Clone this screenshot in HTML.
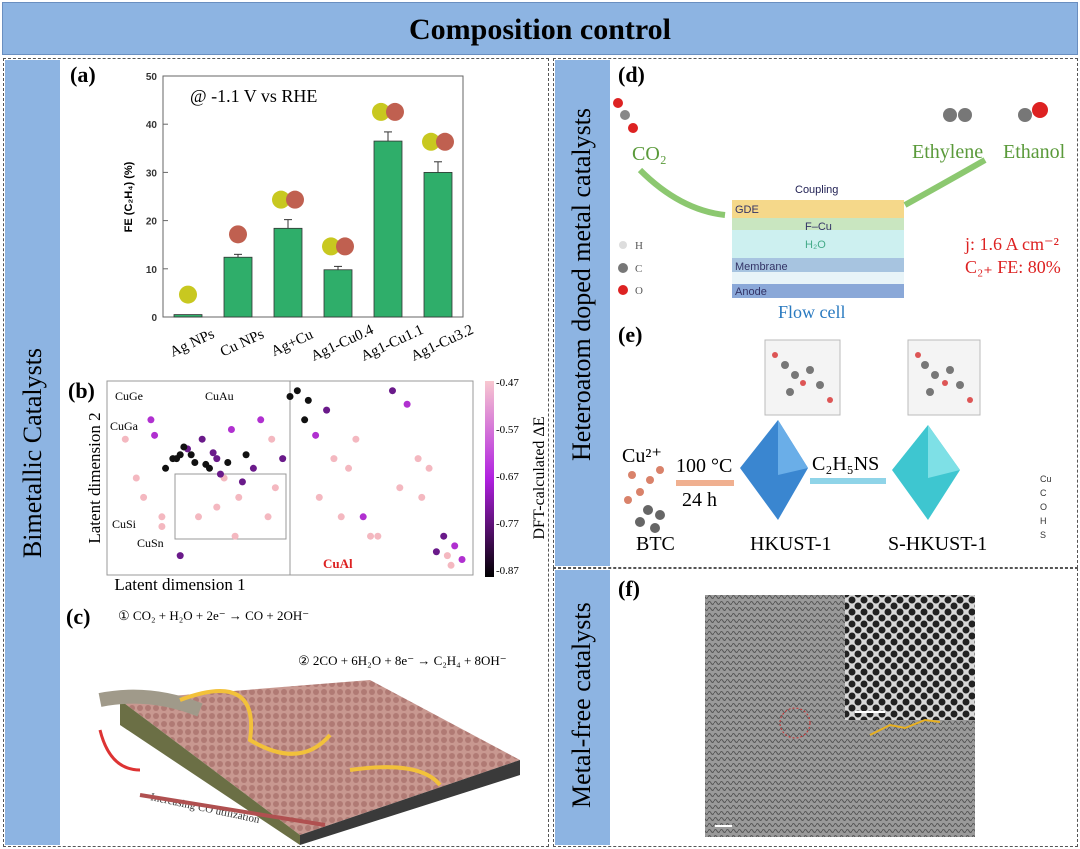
<!DOCTYPE html>
<html><head><meta charset="utf-8">
<style>
body{margin:0;width:1080px;height:849px;background:#fff;position:relative;overflow:hidden;font-family:"Liberation Serif",serif}
.abs{position:absolute}
.strip{position:absolute;background:#8db4e2;}
.vt{position:absolute;transform:rotate(-90deg);transform-origin:center;white-space:nowrap;font-size:26px;color:#000}
.dash{position:absolute;border:1.5px dashed #555;box-sizing:border-box}
.lab{position:absolute;font-weight:bold;font-size:22px}
</style></head><body>
<div class="abs" style="left:2px;top:2px;width:1076px;height:53px;background:#8db4e2;border:1px solid #6a8fc0;box-sizing:border-box;text-align:center;font-weight:bold;font-size:30px;line-height:53px">Composition control</div>

<div class="dash" style="left:3px;top:58px;width:546px;height:789px"></div>
<div class="dash" style="left:553px;top:58px;width:525px;height:510px"></div>
<div class="dash" style="left:553px;top:568px;width:525px;height:279px"></div>

<div class="strip" style="left:5px;top:60px;width:55px;height:785px"></div>
<div class="vt" style="left:-97px;top:438px;width:260px;text-align:center">Bimetallic Catalysts</div>
<div class="strip" style="left:555px;top:60px;width:55px;height:506px"></div>
<div class="vt" style="left:432px;top:296px;width:300px;text-align:center">Heteroatom doped metal catalysts</div>
<div class="strip" style="left:555px;top:570px;width:55px;height:275px"></div>
<div class="vt" style="left:482px;top:693px;width:200px;text-align:center">Metal-free catalysts</div>

<div class="lab" style="left:70px;top:62px">(a)</div>
<div class="lab" style="left:68px;top:378px">(b)</div>
<div class="lab" style="left:66px;top:604px">(c)</div>
<div class="lab" style="left:618px;top:62px">(d)</div>
<div class="lab" style="left:618px;top:322px">(e)</div>
<div class="lab" style="left:618px;top:576px">(f)</div>

<svg class="abs" style="left:0;top:0" width="1080" height="849">
<defs>
<pattern id="tem" width="6" height="6" patternUnits="userSpaceOnUse"><rect width="6" height="6" fill="#9a9a9a"/><path d="M0,3 Q1.5,0 3,3 T6,3" stroke="#555" stroke-width="1" fill="none"/></pattern>
<pattern id="hex" width="12" height="12" patternUnits="userSpaceOnUse"><rect width="12" height="12" fill="#d8d8d8"/><circle cx="6" cy="6" r="3.5" fill="#222"/><circle cx="0" cy="0" r="3.5" fill="#222"/><circle cx="12" cy="12" r="3.5" fill="#222"/><circle cx="0" cy="12" r="3.5" fill="#222"/><circle cx="12" cy="0" r="3.5" fill="#222"/></pattern>
<pattern id="dots" width="8" height="8" patternUnits="userSpaceOnUse"><rect width="8" height="8" fill="#c89890"/><circle cx="4" cy="4" r="3" fill="#b07a74"/></pattern>
</defs>
<g id="chartA"></g>
<g id="chartB"></g>
<!-- panel c -->
<g>
<text x="118" y="620" font-size="13">① CO₂ + H₂O + 2e⁻ → CO + 2OH⁻</text>
<text x="298" y="665" font-size="13">② 2CO + 6H₂O + 8e⁻ → C₂H₄ + 8OH⁻</text>
<polygon points="120,700 370,680 520,760 300,835" fill="url(#dots)"/>
<polygon points="120,700 300,835 300,845 120,725" fill="#6b6f45"/>
<polygon points="300,835 520,760 520,775 300,845" fill="#3a3a3a"/>
<path d="M100,700 Q150,690 200,710" stroke="#a09a8a" stroke-width="14" fill="none"/>
<path d="M180,700 Q260,670 250,740 Q300,770 330,735" stroke="#f2c13a" stroke-width="4" fill="none"/>
<path d="M350,770 Q420,760 440,785" stroke="#f2c13a" stroke-width="4" fill="none"/>
<path d="M100,730 Q110,770 140,770" stroke="#d33" stroke-width="3" fill="none"/>
<text x="150" y="800" font-size="11" fill="#333" transform="rotate(12 150 800)">Increasing CO utilization</text>
<line x1="140" y1="795" x2="325" y2="825" stroke="#b05050" stroke-width="4"/>
</g>
<!-- panel d -->
<g>
<circle cx="625" cy="115" r="5" fill="#888"/><circle cx="633" cy="128" r="5" fill="#d22"/><circle cx="618" cy="103" r="5" fill="#d22"/>
<text x="632" y="160" font-size="20" fill="#5a9a3a">CO₂</text>
<path d="M640,170 Q680,210 725,215" stroke="#8cc870" stroke-width="6" fill="none"/>
<rect x="732" y="200" width="172" height="18" fill="#f5d88a"/>
<rect x="732" y="218" width="172" height="12" fill="#c9e6c0"/>
<rect x="732" y="230" width="172" height="28" fill="#cdf0f0"/>
<rect x="732" y="258" width="172" height="14" fill="#a7c4e0"/>
<rect x="732" y="272" width="172" height="12" fill="#e8f4f8"/>
<rect x="732" y="284" width="172" height="14" fill="#8aa8d8"/>
<text x="735" y="213" font-size="11" font-family="Liberation Sans" fill="#336">GDE</text>
<text x="805" y="230" font-size="11" font-family="Liberation Sans" fill="#336">F–Cu</text>
<text x="805" y="248" font-size="11" font-family="Liberation Sans" fill="#4a8">H₂O</text>
<text x="735" y="270" font-size="11" font-family="Liberation Sans" fill="#336">Membrane</text>
<text x="735" y="295" font-size="11" font-family="Liberation Sans" fill="#336">Anode</text>
<text x="795" y="193" font-size="11" font-family="Liberation Sans" fill="#225">Coupling</text>
<text x="778" y="318" font-size="18" fill="#2a7ac0">Flow cell</text>
<path d="M905,205 Q950,180 985,160" stroke="#8cc870" stroke-width="6" fill="none"/>
<text x="912" y="158" font-size="20" fill="#5a9a3a">Ethylene</text>
<text x="1003" y="158" font-size="20" fill="#5a9a3a">Ethanol</text>
<circle cx="950" cy="115" r="7" fill="#777"/><circle cx="965" cy="115" r="7" fill="#777"/>
<circle cx="1025" cy="115" r="7" fill="#777"/><circle cx="1040" cy="110" r="8" fill="#d22"/>
<text x="965" y="250" font-size="18" fill="#d22">j: 1.6 A cm⁻²</text>
<text x="965" y="273" font-size="18" fill="#d22">C₂₊ FE: 80%</text>
<circle cx="623" cy="245" r="4" fill="#ddd"/><text x="635" y="249" font-size="11" fill="#555">H</text>
<circle cx="623" cy="268" r="5" fill="#777"/><text x="635" y="272" font-size="11" fill="#555">C</text>
<circle cx="623" cy="290" r="5" fill="#d22"/><text x="635" y="294" font-size="11" fill="#555">O</text>
</g>
<!-- panel e -->
<g>
<text x="622" y="462" font-size="20">Cu²⁺</text>
<g fill="#d9826a"><circle cx="632" cy="475" r="4"/><circle cx="650" cy="480" r="4"/><circle cx="640" cy="492" r="4"/><circle cx="660" cy="470" r="4"/><circle cx="628" cy="500" r="4"/></g>
<g fill="#666"><circle cx="648" cy="510" r="5"/><circle cx="660" cy="515" r="5"/><circle cx="655" cy="528" r="5"/><circle cx="640" cy="522" r="5"/></g>
<text x="636" y="550" font-size="20">BTC</text>
<text x="676" y="472" font-size="20">100 °C</text>
<rect x="676" y="480" width="58" height="6" fill="#f0b090"/>
<text x="682" y="506" font-size="20">24 h</text>
<polygon points="778,420 808,468 778,520 740,468" fill="#3a86d0"/>
<polygon points="778,420 808,468 778,475" fill="#6aaee8"/>
<text x="750" y="550" font-size="20">HKUST-1</text>
<text x="812" y="470" font-size="20">C₂H₅NS</text>
<rect x="810" y="478" width="76" height="6" fill="#8fd4e8"/>
<polygon points="928,425 960,470 928,520 892,470" fill="#3ec6d0"/>
<polygon points="928,425 960,470 928,478" fill="#7ee0e6"/>
<text x="888" y="550" font-size="20">S-HKUST-1</text>
<rect x="765" y="340" width="75" height="75" fill="#f4f4f4" stroke="#bbb"/>
<g fill="#777"><circle cx="785" cy="365" r="4"/><circle cx="795" cy="375" r="4"/><circle cx="810" cy="370" r="4"/><circle cx="820" cy="385" r="4"/><circle cx="790" cy="392" r="4"/></g>
<g fill="#d55"><circle cx="775" cy="355" r="3"/><circle cx="830" cy="400" r="3"/><circle cx="803" cy="383" r="3"/></g>
<rect x="908" y="340" width="72" height="75" fill="#f4f4f4" stroke="#bbb"/>
<g fill="#777"><circle cx="925" cy="365" r="4"/><circle cx="935" cy="375" r="4"/><circle cx="950" cy="370" r="4"/><circle cx="960" cy="385" r="4"/><circle cx="930" cy="392" r="4"/></g>
<g fill="#d55"><circle cx="918" cy="355" r="3"/><circle cx="970" cy="400" r="3"/><circle cx="945" cy="383" r="3"/></g>
<g font-size="9" font-family="Liberation Sans" fill="#333"><text x="1040" y="482">Cu</text><text x="1040" y="496">C</text><text x="1040" y="510">O</text><text x="1040" y="524">H</text><text x="1040" y="538">S</text></g>
</g>
<!-- panel f -->
<g>
<rect x="705" y="595" width="270" height="242" fill="url(#tem)"/>
<rect x="845" y="595" width="130" height="125" fill="url(#hex)"/>
<circle cx="795" cy="723" r="15" fill="none" stroke="#c33" stroke-dasharray="2,2"/>
<path d="M870,735 L890,725 L905,728 L925,720 L940,722" stroke="#e8b020" stroke-width="2" fill="none"/>
<line x1="855" y1="712" x2="885" y2="712" stroke="#fff" stroke-width="2"/>
<line x1="715" y1="826" x2="732" y2="826" stroke="#fff" stroke-width="2"/>
</g>
</svg>
<script>
// ---- Panel (a) bar chart data ----
const catsA=["Ag NPs","Cu NPs","Ag+Cu","Ag1-Cu0.4","Ag1-Cu1.1","Ag1-Cu3.2"];
const valsA=[0.5,12.4,18.4,9.8,36.5,30.0];
const errsA=[0,0.6,1.8,0.7,1.9,2.2];
const ticksA=[0,10,20,30,40,50];
// ---- Panel (b) scatter data ----
const ptsX=[0.05,0.08,0.12,0.15,0.18,0.2,0.22,0.24,0.26,0.28,0.3,0.32,0.34,0.36,0.38,0.4,0.42,0.44,0.46,0.48,0.5,0.55,0.6,0.62,0.66,0.7,0.72,0.78,0.82,0.85,0.9,0.95,0.2,0.25,0.3,0.35,0.1,0.15,0.45,0.52,0.58,0.68,0.74,0.8,0.88,0.93,0.97,0.16,0.19,0.21,0.27,0.29,0.33,0.13,0.23,0.31,0.37,0.54,0.57,0.64,0.86,0.92,0.94];
const ptsY=[0.7,0.5,0.8,0.3,0.6,0.62,0.65,0.58,0.7,0.55,0.6,0.5,0.75,0.4,0.62,0.55,0.8,0.3,0.45,0.6,0.92,0.9,0.85,0.6,0.55,0.3,0.2,0.95,0.88,0.6,0.12,0.15,0.1,0.3,0.35,0.2,0.4,0.25,0.7,0.95,0.4,0.7,0.2,0.45,0.55,0.1,0.08,0.55,0.6,0.66,0.57,0.63,0.58,0.72,0.62,0.52,0.48,0.8,0.72,0.3,0.4,0.2,0.05];
const ptsV=[-0.6,-0.5,-0.7,-0.55,-0.87,-0.85,-0.8,-0.86,-0.75,-0.87,-0.8,-0.5,-0.7,-0.6,-0.85,-0.8,-0.7,-0.5,-0.6,-0.8,-0.87,-0.85,-0.75,-0.48,-0.5,-0.7,-0.5,-0.8,-0.72,-0.5,-0.75,-0.7,-0.75,-0.5,-0.48,-0.5,-0.5,-0.5,-0.5,-0.87,-0.48,-0.5,-0.48,-0.5,-0.6,-0.5,-0.7,-0.87,-0.86,-0.87,-0.87,-0.8,-0.86,-0.7,-0.87,-0.8,-0.75,-0.87,-0.72,-0.5,-0.48,-0.8,-0.5];
const cbTicks=[-0.47,-0.57,-0.67,-0.77,-0.87];
const NS="http://www.w3.org/2000/svg";
function mk(tag,attrs,parent,text){const e=document.createElementNS(NS,tag);for(const k in attrs)e.setAttribute(k,attrs[k]);if(text!==undefined)e.textContent=text;parent.appendChild(e);return e;}
// axes A
const gA=document.getElementById('chartA');
const X0=163,X1=463,Y0=317,Y1=76;
const yA=v=>Y0-(v/50)*(Y0-Y1);
const bw=(X1-X0)/catsA.length;
const xA=i=>X0+bw*(i+0.5);
mk('rect',{x:X0,y:Y1,width:X1-X0,height:Y0-Y1,fill:'none',stroke:'#666','stroke-width':1},gA);
ticksA.forEach(t=>{mk('line',{x1:X0,y1:yA(t),x2:X0+5,y2:yA(t),stroke:'#666'},gA);
 const tl=mk('text',{x:X0-6,y:yA(t)+4,'font-size':10,'font-family':'Liberation Sans','font-weight':'bold','text-anchor':'end',fill:'#333'},gA,String(t));
 
 });
const yt=mk('text',{x:0,y:0,'font-size':11,'font-family':'Liberation Sans','font-weight':'bold',transform:'translate(132,197) rotate(-90)','text-anchor':'middle'},gA,'FE (C₂H₄)  (%)');


mk('text',{x:190,y:102,'font-size':18},gA,'@ -1.1 V vs RHE');
catsA.forEach((c,i)=>{
 const b=mk('rect',{x:xA(i)-14,y:yA(valsA[i]),width:28,height:Y0-yA(valsA[i]),fill:'#2fae6a',stroke:'#333','stroke-width':0.8},gA);
 
 
 if(errsA[i]>0){const ye=yA(valsA[i]+errsA[i]);mk('line',{x1:xA(i),y1:yA(valsA[i]),x2:xA(i),y2:ye,stroke:'#333'},gA);mk('line',{x1:xA(i)-4,y1:ye,x2:xA(i)+4,y2:ye,stroke:'#333'},gA);}
 const cy=yA(valsA[i]+errsA[i])-20;
 if(i==0) mk('circle',{cx:xA(i),cy:cy,r:9,fill:'#c8c820'},gA);
 else if(i==1) mk('circle',{cx:xA(i),cy:cy,r:9,fill:'#c06050'},gA);
 else {mk('circle',{cx:xA(i)-7,cy:cy,r:9,fill:'#c8c820'},gA);mk('circle',{cx:xA(i)+7,cy:cy,r:9,fill:'#c06050'},gA);}
 const tl=mk('text',{x:0,y:0,'font-size':15,transform:`translate(${xA(i)+6},${Y0+30}) rotate(-25)`,'text-anchor':'middle'},gA,c);
 
 
});
// scatter B
const gB=document.getElementById('chartB');
const BX0=107,BX1=473,BY0=575,BY1=381;
mk('rect',{x:BX0,y:BY1,width:BX1-BX0,height:BY0-BY1,fill:'#fff',stroke:'#999'},gB);
mk('line',{x1:290,y1:BY1,x2:290,y2:BY0,stroke:'#999'},gB);
mk('rect',{x:175,y:474,width:111,height:65,fill:'none',stroke:'#999'},gB);
function col(v){const t=(v+0.87)/0.4;if(t>0.6)return '#f4b8c0';if(t>0.35)return '#b030d0';if(t>0.15)return '#6a1a8a';return '#111';}
const xB=u=>BX0+u*(BX1-BX0), yB=u=>BY0-u*(BY0-BY1);
ptsX.forEach((u,i)=>{const c=mk('circle',{cx:xB(u),cy:yB(ptsY[i]),r:3.5,fill:col(ptsV[i])},gB);
 
 });
[['CuGe',115,400],['CuGa',110,430],['CuAu',205,400],['CuSi',112,528],['CuSn',137,547]].forEach(a=>mk('text',{x:a[1],y:a[2],'font-size':12},gB,a[0]));
mk('text',{x:323,y:568,'font-size':13,fill:'#d22','font-weight':'bold'},gB,'CuAl');
mk('text',{x:0,y:0,'font-size':17,transform:'translate(100,478) rotate(-90)','text-anchor':'middle'},gB,'Latent dimension 2');
mk('text',{x:180,y:590,'font-size':17,'text-anchor':'middle'},gB,'Latent dimension 1');
const defs=mk('defs',{},gB);const lg=mk('linearGradient',{id:'cb',x1:0,y1:0,x2:0,y2:1},defs);
mk('stop',{offset:'0','stop-color':'#f8c8d0'},lg);mk('stop',{offset:'0.5','stop-color':'#b020e0'},lg);mk('stop',{offset:'1','stop-color':'#000'},lg);
mk('rect',{x:485,y:381,width:9,height:196,fill:'url(#cb)'},gB);
cbTicks.forEach((t,i)=>mk('text',{x:496,y:386+i*47,'font-size':11},gB,String(t)));
mk('text',{x:0,y:0,'font-size':16,transform:'translate(544,478) rotate(-90)','text-anchor':'middle'},gB,'DFT-calculated ΔE');
</script>
</body></html>
